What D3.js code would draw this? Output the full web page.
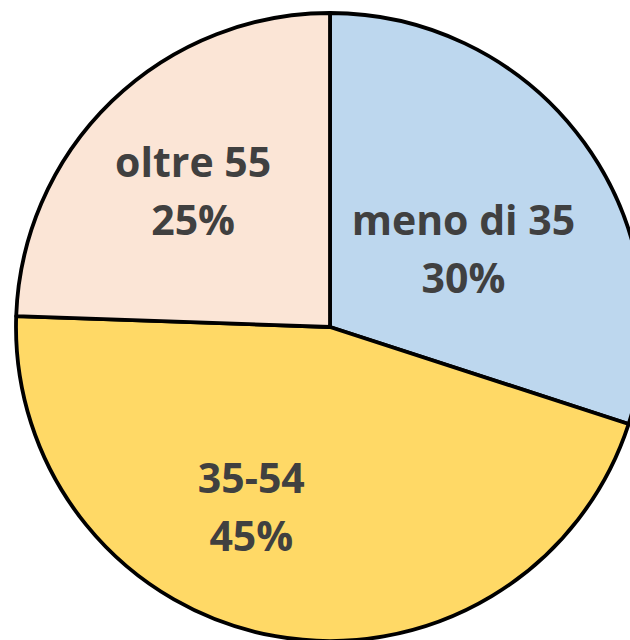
<!DOCTYPE html>
<html>
<head>
<meta charset="utf-8">
<script src="https://cdn.jsdelivr.net/npm/d3@7"></script>
<style>
  body { margin: 0; background: #fff; }
  .slice-label { font-family: "Open Sans", sans-serif; font-weight: bold; font-size: 41px; fill: #404040; }
</style>
</head>
<body>
<svg id="pieChart"></svg>
<script>
// data
const categories = ["meno di 35", "35-54", "oltre 55"];
const shares = [30, 45.55, 24.45];
const pctLabels = ["30%", "45%", "25%"];
const colors = ["#BDD7EE", "#FFD966", "#FBE5D6"];
// small nudges so labels sit where Excel put them
const labelNudge = [[-19, 33], [-46, -6], [-6, 0]];

const svgWidth = 630;
const svgHeight = 640;
const cx = 330, cy = 327;
const radius = 314;

const svg = d3.select("#pieChart")
  .attr("width", svgWidth)
  .attr("height", svgHeight);

const chart = svg.append("g")
  .attr("transform", "translate(" + cx + "," + cy + ")");

const pie = d3.pie().sort(null).value(d => d);
const arcs = pie(shares);

const arc = d3.arc().innerRadius(0).outerRadius(radius);
const labelArc = d3.arc().innerRadius(radius * 0.6).outerRadius(radius * 0.6);

// slices
chart.selectAll(".slice")
  .data(arcs)
  .enter().append("path")
  .attr("class", "slice")
  .attr("d", arc)
  .attr("fill", (d, i) => colors[i])
  .attr("stroke", "#000")
  .attr("stroke-width", 3.8)
  .attr("stroke-linejoin", "round");

// labels: category on top, percent below
const labels = chart.selectAll(".slice-label")
  .data(arcs)
  .enter().append("text")
  .attr("class", "slice-label")
  .attr("text-anchor", "middle")
  .attr("transform", (d, i) => {
    const c = labelArc.centroid(d);
    return "translate(" + (c[0] + labelNudge[i][0]) + "," + (c[1] + labelNudge[i][1]) + ")";
  });

labels.append("tspan")
  .attr("x", 0)
  .attr("y", -14)
  .text((d, i) => categories[i]);

labels.append("tspan")
  .attr("x", 0)
  .attr("y", 44)
  .text((d, i) => pctLabels[i]);
</script>
</body>
</html>
